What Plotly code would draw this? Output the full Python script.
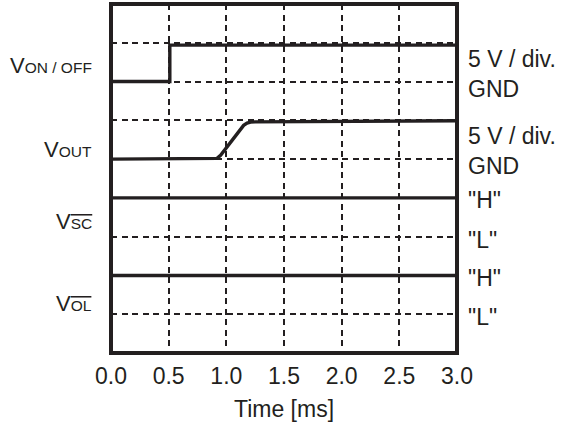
import plotly.graph_objects as go

# ---- data ----
time_von = [0.0, 0.51, 0.51, 3.0]
v_on_off = [7.0, 7.0, 7.94, 7.94]

time_vout = [0.0, 0.89, 0.92, 0.95, 1.0, 1.05, 1.1, 1.15, 1.18, 1.21, 1.25, 3.0]
v_out = [5.0, 5.0, 5.02, 5.1, 5.3, 5.5, 5.69, 5.87, 5.93, 5.955, 5.96, 5.99]

time_flag = [0.0, 3.0]
v_sc = [4.0, 4.0]
v_ol = [2.0, 2.0]

x_ticks = [0.0, 0.5, 1.0, 1.5, 2.0, 2.5, 3.0]
x_ticklabels = ["0.0", "0.5", "1.0", "1.5", "2.0", "2.5", "3.0"]

left_labels = [
    "V<span style='font-size:15.5px'>ON / OFF</span>",
    "V<span style='font-size:15.5px'>OUT</span>",
    "V<span style='font-size:15.5px;text-decoration:overline'>SC</span>",
    "V<span style='font-size:15.5px;text-decoration:overline'>OL</span>",
]
left_label_y = [7.42, 5.25, 3.40, 1.27]

right_labels = ["5 V / div.<br>GND", "5 V / div.<br>GND", '"H"', '"L"', '"H"', '"L"']
right_label_y = [7.2, 5.22, 3.94, 2.91, 1.93, 0.92]

INK = "#231f20"
FONT = "Liberation Sans, Arial, Helvetica, sans-serif"

fig = go.Figure()
for xs, ys in [(time_von, v_on_off), (time_vout, v_out), (time_flag, v_sc), (time_flag, v_ol)]:
    fig.add_trace(go.Scatter(x=xs, y=ys, mode="lines",
                             line=dict(color=INK, width=3.4),
                             showlegend=False, hoverinfo="skip"))

fig.update_xaxes(range=[0, 3], tickvals=x_ticks, ticktext=x_ticklabels,
                 showgrid=True, gridcolor=INK, gridwidth=1.5, griddash="6px,4.5px",
                 zeroline=False, showline=False, ticks="", ticklabelstandoff=7,
                 tickfont=dict(family=FONT, size=23, color=INK),
                 title=dict(text="Time [ms]", font=dict(family=FONT, size=23, color=INK),
                            standoff=12))
fig.update_yaxes(range=[0, 9], tickvals=[1, 2, 3, 4, 5, 6, 7, 8],
                 showticklabels=False, showgrid=True, gridcolor=INK, gridwidth=1.5,
                 griddash="6px,4.5px", zeroline=False, showline=False, ticks="")

fig.add_shape(type="rect", xref="paper", yref="paper", x0=0, x1=1, y0=0, y1=1,
              line=dict(color=INK, width=4), layer="above")

for t, y in zip(left_labels, left_label_y):
    fig.add_annotation(x=0, xref="paper", y=y, yref="y", text=t, showarrow=False,
                       xanchor="right", yanchor="middle", xshift=-17,
                       font=dict(family=FONT, size=22, color=INK))
for t, y in zip(right_labels, right_label_y):
    fig.add_annotation(x=1, xref="paper", y=y, yref="y", text=t, showarrow=False,
                       xanchor="left", yanchor="middle", xshift=9, align="left",
                       font=dict(family=FONT, size=23, color=INK))

fig.update_layout(width=565, height=428,
                  margin=dict(l=111, r=108, t=4, b=75),
                  plot_bgcolor="white", paper_bgcolor="white",
                  font=dict(family=FONT, color=INK))

fig.write_html("out.html", config={"displayModeBar": False},
               post_script="document.body.style.margin='0px';document.body.style.overflow='hidden';")
